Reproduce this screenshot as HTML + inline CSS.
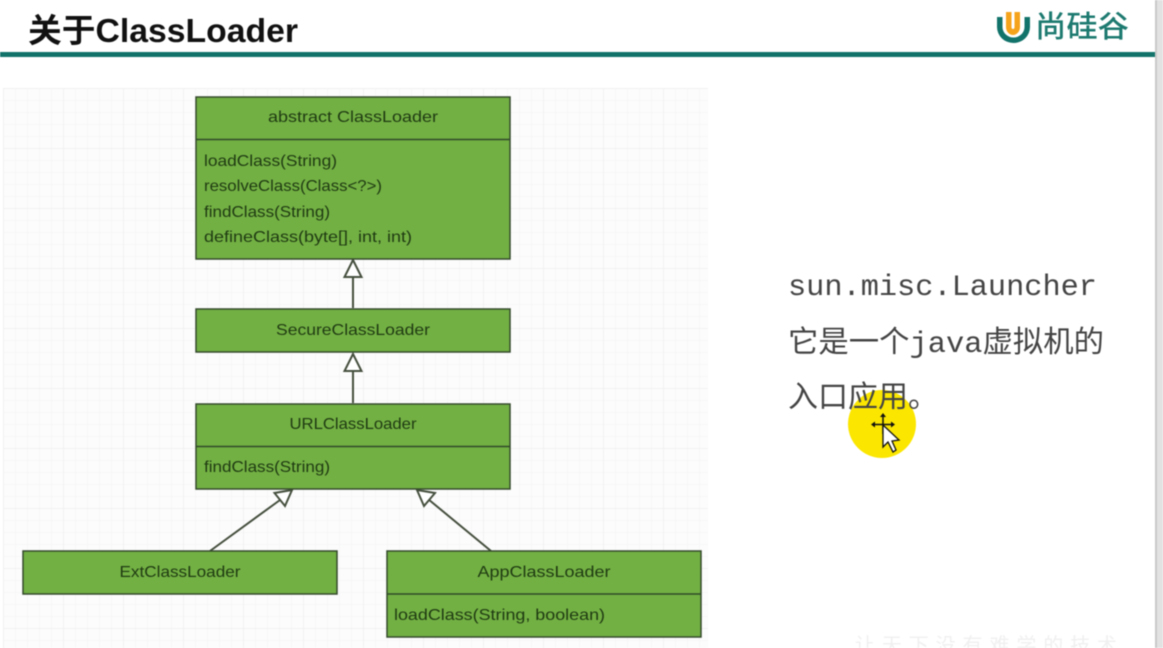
<!DOCTYPE html>
<html>
<head>
<meta charset="utf-8">
<style>
html,body{margin:0;padding:0;background:#fff;}
body{width:1163px;height:648px;overflow:hidden;}
svg{display:block;filter:blur(.45px);}
.u{font-family:"Liberation Sans",sans-serif;font-size:16px;fill:#1f3a12;}
.m{font-family:"Liberation Mono","Noto Sans CJK SC",monospace;font-size:30px;fill:#444;}
</style>
</head>
<body>
<svg width="1163" height="648" viewBox="0 0 1163 648" xmlns="http://www.w3.org/2000/svg">
<defs>
<pattern id="g" width="12" height="12" patternUnits="userSpaceOnUse" x="3" y="88">
<rect width="12" height="12" fill="#fcfcfc"/>
<path d="M0 .5H12M.5 0V12" stroke="#f7f7f7" stroke-width="1"/>
</pattern>
<pattern id="g2" width="60" height="60" patternUnits="userSpaceOnUse" x="3" y="88">
<path d="M0 .5H60M.5 0V60" stroke="#f1f1f1" stroke-width="1" fill="none"/>
</pattern>
</defs>
<rect width="1163" height="648" fill="#fff"/>
<rect x="1155" y="0" width="8" height="648" fill="#e2e2e2"/>
<rect x="1155" y="0" width="2" height="648" fill="#c9c9c9"/>

<text x="28" y="42" font-family="'Liberation Sans','Noto Sans CJK SC',sans-serif" font-size="33" font-weight="700" fill="#111" textLength="270" lengthAdjust="spacingAndGlyphs">关于ClassLoader</text>
<rect x="0" y="52" width="1155" height="5" fill="#12736b"/>

<path d="M997 17v10a16.500 16 0 0 0 33 0V17h-5.500v10a11 10.500 0 0 1-22 0V17z" fill="#12736b"/>
<path d="M1006 12v15a7 8 0 0 0 14 0V12h-5.500v15a1.500 2 0 0 1-3 0V12z" fill="#f5a31a"/>
<text x="1035" y="37" font-family="'Noto Sans CJK SC',sans-serif" font-size="30" font-weight="500" fill="#1d7a70" textLength="94" lengthAdjust="spacingAndGlyphs">尚硅谷</text>

<rect x="3" y="88" width="705" height="560" fill="url(#g)"/>
<rect x="3" y="88" width="705" height="560" fill="url(#g2)"/>

<g stroke="#46503f" stroke-width="2" fill="none">
<path d="M353 308V276M353 403V371M210 551L280 500M491 551L428 499"/>
</g>
<g fill="#fff" stroke="#46503f" stroke-width="2" stroke-linejoin="miter">
<path d="M353 260L344.500 277H361.500Z"/>
<path d="M353 354L344.500 371H361.500Z"/>
<path d="M292 490L274.500 493L285 506Z"/>
<path d="M417 490L424 506L435 493Z"/>
</g>

<g fill="#72b043" stroke="#344a2c" stroke-width="1.500">
<rect x="196" y="97" width="314" height="162"/>
<rect x="196" y="309" width="314" height="43"/>
<rect x="196" y="404" width="314" height="85"/>
<rect x="23" y="551" width="314" height="43"/>
<rect x="387" y="551" width="314" height="86"/>
</g>
<g stroke="#2f4a28" stroke-width="1.500">
<path d="M196 139.500H510M196 446.500H510M387 594H701"/>
</g>

<g class="u">
<text class="u" x="353" y="122" text-anchor="middle" textLength="170" lengthAdjust="spacingAndGlyphs">abstract ClassLoader</text>
<text class="u" x="204" y="166" textLength="133" lengthAdjust="spacingAndGlyphs">loadClass(String)</text>
<text class="u" x="204" y="191" textLength="178" lengthAdjust="spacingAndGlyphs">resolveClass(Class&lt;?&gt;)</text>
<text class="u" x="204" y="217" textLength="126" lengthAdjust="spacingAndGlyphs">findClass(String)</text>
<text class="u" x="204" y="242" textLength="208" lengthAdjust="spacingAndGlyphs">defineClass(byte[], int, int)</text>
<text class="u" x="353" y="335" text-anchor="middle" textLength="154" lengthAdjust="spacingAndGlyphs">SecureClassLoader</text>
<text class="u" x="353" y="429" text-anchor="middle" textLength="127" lengthAdjust="spacingAndGlyphs">URLClassLoader</text>
<text class="u" x="204" y="472" textLength="126" lengthAdjust="spacingAndGlyphs">findClass(String)</text>
<text class="u" x="180" y="577" text-anchor="middle" textLength="121" lengthAdjust="spacingAndGlyphs">ExtClassLoader</text>
<text class="u" x="544" y="577" text-anchor="middle" textLength="133" lengthAdjust="spacingAndGlyphs">AppClassLoader</text>
<text class="u" x="394" y="620" textLength="211" lengthAdjust="spacingAndGlyphs">loadClass(String, boolean)</text>
</g>

<circle cx="882" cy="424" r="34" fill="#fbe600"/>

<text class="m" x="788" y="295" textLength="309" lengthAdjust="spacingAndGlyphs">sun.misc.Launcher</text>
<text class="m" x="788" y="352" textLength="316" lengthAdjust="spacingAndGlyphs">它是一个java虚拟机的</text>
<text class="m" x="788" y="407">入口应用。</text>

<g stroke="#111" stroke-width="1.500" fill="#111">
<path d="M873 424.500H893M883 415V434" fill="none"/>
<path d="M883 413l-3 4h6zM871 424.500l4-3v6zM895 424.500l-4-3v6z" stroke="none"/>
</g>
<path d="M883 425V447L888 442L893 452L896 450L892 441L899 440Z" fill="#fff" stroke="#111" stroke-width="1.300"/>

<text x="855" y="652" font-family="'Noto Sans CJK SC',sans-serif" font-size="20" fill="#f0f0f0" textLength="262" lengthAdjust="spacing">让天下没有难学的技术</text>
</svg>
</body>
</html>
